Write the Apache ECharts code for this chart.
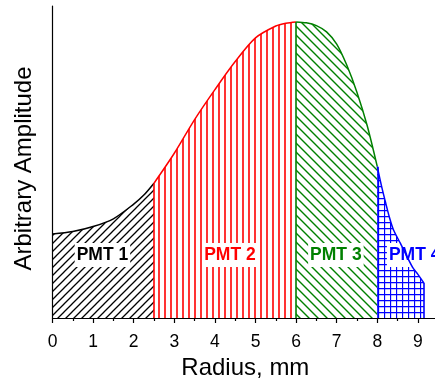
<!DOCTYPE html>
<html>
<head>
<meta charset="utf-8">
<script src="https://cdn.jsdelivr.net/npm/echarts@6/dist/echarts.min.js"></script>
<style>html,body{margin:0;padding:0;background:#fff}#c{width:435px;height:379px}</style>
</head>
<body>
<div id="c"></div>
<script>
// ---- data ----
var xTicks = [0, 1, 2, 3, 4, 5, 6, 7, 8, 9];
var pmt1X = [0, 0.5, 1.0, 1.5, 2.0, 2.25, 2.5];
var pmt1Y = [0.269, 0.277, 0.293, 0.318, 0.365, 0.394, 0.432];
var pmt2X = [2.5, 3.0, 3.5, 4.0, 4.5, 5.0, 5.5, 5.75, 6.0];
var pmt2Y = [0.432, 0.528, 0.636, 0.732, 0.822, 0.898, 0.936, 0.945, 0.949];
var pmt3X = [6.0, 6.25, 6.5, 6.75, 7.0, 7.25, 7.5, 7.75, 8.0];
var pmt3Y = [0.949, 0.946, 0.937, 0.917, 0.878, 0.81, 0.723, 0.617, 0.485];
var pmt4X = [8.0, 8.1, 8.2, 8.3, 8.4, 8.57, 8.87, 9.0, 9.15];
var pmt4Y = [0.485, 0.425, 0.372, 0.322, 0.282, 0.239, 0.162, 0.14, 0.112];
var labelNames = ['PMT 1', 'PMT 2', 'PMT 3', 'PMT 4'];
var labelX = [1.23, 4.37, 6.98, 8.92];
var labelY = [0.202, 0.202, 0.202, 0.202];

function zip(xs, ys) { return xs.map(function (x, i) { return [x, ys[i]]; }); }

function hatch(size, color, width, kind) {
  var c = document.createElement('canvas');
  c.width = size; c.height = size;
  var g = c.getContext('2d');
  g.strokeStyle = color; g.lineWidth = width;
  g.beginPath();
  if (kind === 'fwd') {
    g.moveTo(-1, size + 1); g.lineTo(size + 1, -1);
    g.moveTo(-1, 1); g.lineTo(1, -1);
    g.moveTo(size - 1, size + 1); g.lineTo(size + 1, size - 1);
  } else if (kind === 'back') {
    g.moveTo(-1, -1); g.lineTo(size + 1, size + 1);
    g.moveTo(size - 1, -1); g.lineTo(size + 1, 1);
    g.moveTo(-1, size - 1); g.lineTo(1, size + 1);
  } else if (kind === 'vert') {
    g.moveTo(size / 2, 0); g.lineTo(size / 2, size);
  } else if (kind === 'grid') {
    g.moveTo(0.5, 0); g.lineTo(0.5, size);
    g.moveTo(0, 0.5); g.lineTo(size, 0.5);
  }
  g.stroke();
  return { image: c, repeat: 'repeat' };
}

var colors = ['#000000', '#ff0000', '#008000', '#0000ff'];
var pats = [
  hatch(8, '#000000', 1.3, 'fwd'),
  hatch(6, '#ff0000', 1.6, 'vert'),
  hatch(9, '#008000', 1.4, 'back'),
  hatch(6, '#0000ff', 1.3, 'grid')
];
var xs = [pmt1X, pmt2X, pmt3X, pmt4X];
var ys = [pmt1Y, pmt2Y, pmt3Y, pmt4Y];
var FONT = 'Liberation Sans, Arial, sans-serif';

var series = [];
for (var i = 0; i < 4; i++) {
  var vlines = [];
  var X = xs[i], Y = ys[i];
  if (i > 0) vlines.push([{ coord: [X[0], 0] }, { coord: [X[0], Y[0]] }]);
  if (i === 3) vlines.push([{ coord: [X[X.length - 1], 0] }, { coord: [X[X.length - 1], Y[Y.length - 1]] }]);
  series.push({
    type: 'line',
    name: labelNames[i],
    data: zip(X, Y),
    smooth: 0.3,
    showSymbol: false,
    symbol: 'none',
    z: 2 + i,
    lineStyle: { color: colors[i], width: 1.5 },
    areaStyle: { color: pats[i], opacity: 1, origin: 'start' },
    markLine: {
      silent: true, symbol: ['none', 'none'], animation: false,
      label: { show: false },
      lineStyle: { color: colors[i], width: 1.6, type: 'solid' },
      data: vlines
    },
    markPoint: {
      silent: true, animation: false,
      symbol: 'rect', symbolSize: 0,
      label: {
        show: true, position: 'inside', formatter: labelNames[i],
        color: colors[i], fontFamily: FONT,
        fontWeight: 'bold', fontSize: 17.5, backgroundColor: '#ffffff',
        padding: [3, 2, 3, 2]
      },
      data: [{ coord: [labelX[i], labelY[i]] }]
    }
  });
}

var chart = echarts.init(document.getElementById('c'), null, { renderer: 'canvas' });
chart.setOption({
  animation: false,
  backgroundColor: '#ffffff',
  grid: { left: 52.5, top: 6, width: 385.7, height: 312, containLabel: false, outerBoundsMode: 'none' },
  xAxis: {
    type: 'value', min: 0, max: 9.5, interval: 1,
    name: 'Radius, mm', nameLocation: 'middle', nameGap: 38,
    nameTextStyle: { fontFamily: FONT, fontSize: 24, color: '#000' },
    axisLine: { show: true, onZero: false, lineStyle: { color: '#000', width: 1.2 } },
    axisTick: { show: true, length: 5, lineStyle: { color: '#000', width: 1.2 } },
    minorTick: { show: true, splitNumber: 2, length: 3, lineStyle: { color: '#000', width: 1.2 } },
    splitLine: { show: false }, minorSplitLine: { show: false },
    axisLabel: {
      margin: 15, color: '#000', fontSize: 17.5, fontFamily: FONT,
      formatter: function (v) { return xTicks.indexOf(v) >= 0 ? String(v) : ''; }
    }
  },
  yAxis: {
    type: 'value', min: 0, max: 1,
    name: 'Arbitrary Amplitude', nameLocation: 'middle', nameGap: 16,
    nameTextStyle: { fontFamily: FONT, fontSize: 24, color: '#000', padding: [0, 13, 0, 0] },
    axisLine: { show: true, lineStyle: { color: '#000', width: 1.2 } },
    axisTick: { show: false }, axisLabel: { show: false }, splitLine: { show: false }
  },
  series: series
});
</script>
</body>
</html>
